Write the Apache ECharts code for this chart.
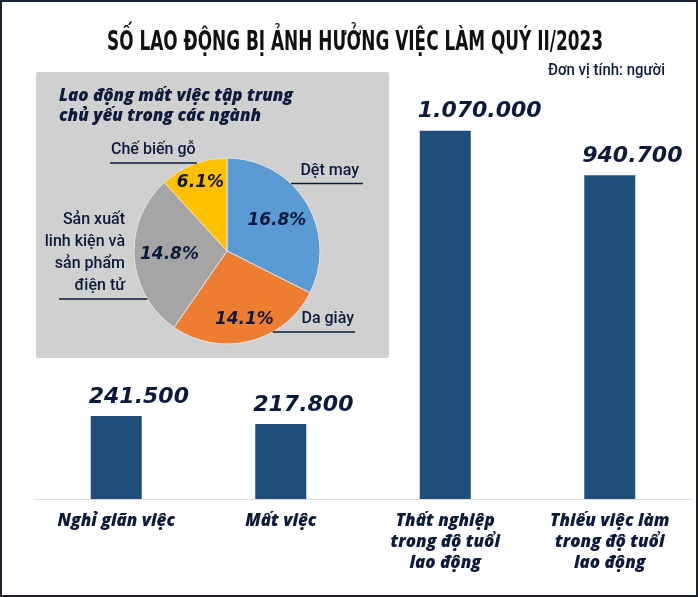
<!DOCTYPE html>
<html><head><meta charset="utf-8">
<script src="https://cdn.jsdelivr.net/npm/echarts@6/dist/echarts.min.js"></script>
<style>html,body{margin:0;padding:0;background:#fff}#c{width:698px;height:597px}</style>
</head><body><div id="c"></div>
<script>
// ---- data ----
const categories = ['Nghỉ giãn việc', 'Mất việc', 'Thất nghiệp\ntrong độ tuổi\nlao động', 'Thiếu việc làm\ntrong độ tuổi\nlao động'];
const workers = [241500, 217800, 1070000, 940700];
const sectorNames = ['Dệt may', 'Da giày', 'Sản xuất\nlinh kiện và\nsản phẩm\nđiện tử', 'Chế biến gỗ'];
const sectorShares = [16.8, 14.1, 14.8, 6.1];
const mainTitle = 'SỐ LAO ĐỘNG BỊ ẢNH HƯỞNG VIỆC LÀM QUÝ II/2023';
const pieTitle = 'Lao động mất việc tập trung\nchủ yếu trong các ngành';
const unitText = 'Đơn vị tính: người';

// ---- style / layout ----
const NAVY = '#0e1a3b';
const BAR = '#1f4e79';
const pieColors = ['#5b9bd5', '#ed7d31', '#a5a5a5', '#ffc000'];
const COND = 'Roboto, "Liberation Sans", sans-serif';
const GEO = '"Open Sans", Lato, sans-serif';
const WIDE = '"DejaVu Sans", Verdana, sans-serif';
const PIE_C = [227, 251], PIE_R = 93;
const innerLabelRadius = [0.63, 0.76, 0.62, 0.79];
const outerLabelLayout = [
  {lineY: 183.5, lineEnd: 363, textX: 359, side: 1, align: 'right'},
  {lineY: 332, lineEnd: 355, textX: 354, side: 1, align: 'right'},
  {lineY: 299, lineEnd: 59, textX: 125, side: -1, align: 'right'},
  {lineY: 163, lineEnd: 110, textX: 111, side: -1, align: 'left'}
];

function measure(text, font) {
  const ctx = document.createElement('canvas').getContext('2d');
  ctx.font = font; return ctx.measureText(text).width;
}
const titleFont = 'bold 27px "DejaVu Sans", sans-serif';
const titleScale = 496 / measure(mainTitle, titleFont);
const unitFont = '500 16px ' + COND;
const unitScale = 117 / measure(unitText, unitFont);
const fmt = v => String(v).replace(/\B(?=(\d{3})+(?!\d))/g, '.');

const chart = echarts.init(document.getElementById('c'), null, {renderer: 'canvas'});
chart.setOption({
  animation: false,
  backgroundColor: '#ffffff',
  title: {
    text: pieTitle, left: 54, top: 81,
    textStyle: {fontFamily: GEO, fontSize: 17, fontWeight: 800, fontStyle: 'italic', color: NAVY, lineHeight: 20}
  },
  graphic: [
    {type: 'rect', z: 0, shape: {x: 36, y: 72, width: 353, height: 286, r: 2}, style: {fill: '#d0d0d0'}},
    {type: 'text', z: 10, x: 107, y: 29, scaleX: titleScale,
      style: {text: mainTitle, font: titleFont, fill: '#111111', textVerticalAlign: 'top'}},
    {type: 'text', z: 10, x: 548, y: 63, scaleX: unitScale,
      style: {text: unitText, font: unitFont, fill: NAVY, textAlign: 'left', textVerticalAlign: 'top'}},
    {type: 'rect', z: 100, shape: {x: 1, y: 1, width: 696, height: 595}, style: {fill: 'none', stroke: '#1b2233', lineWidth: 2}}
  ],
  grid: {left: 34, right: 6, top: 86, bottom: 98},
  xAxis: {
    type: 'category', data: categories,
    axisLine: {show: true, lineStyle: {color: '#dcdcdc', width: 1}},
    axisTick: {show: false},
    axisLabel: {interval: 0, margin: 12, fontFamily: GEO, fontSize: 17, fontWeight: 800, fontStyle: 'italic', color: NAVY, lineHeight: 21}
  },
  yAxis: {
    type: 'value', min: 0, max: 1200000, interval: 400000,
    axisLabel: {show: false}, axisLine: {show: false}, axisTick: {show: false}, splitLine: {show: false}
  },
  series: [
    {
      type: 'bar', data: workers, barWidth: 51, silent: true,
      itemStyle: {color: BAR},
      label: {show: true, position: [-2, -8], align: 'left', verticalAlign: 'bottom', formatter: p => fmt(p.value),
        fontFamily: WIDE, fontSize: 22, fontWeight: 'bold', fontStyle: 'italic', color: NAVY}
    },
    {
      type: 'pie', center: PIE_C, radius: PIE_R, startAngle: 90, clockwise: true, silent: true, z: 3,
      data: sectorNames.map((n, i) => ({name: n, value: sectorShares[i]})),
      color: pieColors,
      itemStyle: {borderColor: '#e4e4e4', borderWidth: 1},
      label: {show: true, position: 'inside', formatter: p => p.value.toFixed(1) + '%',
        fontFamily: WIDE, fontSize: 17, fontWeight: 'bold', fontStyle: 'italic', color: NAVY},
      labelLine: {show: false},
      labelLayout: function (p) {
        const r = p.labelRect;
        const lx = r.x + r.width / 2, ly = r.y + r.height / 2;
        const dx = lx - PIE_C[0], dy = ly - PIE_C[1];
        const d = Math.hypot(dx, dy) || 1;
        const f = innerLabelRadius[p.dataIndex] * PIE_R;
        return {x: PIE_C[0] + dx / d * f, y: PIE_C[1] + dy / d * f, align: 'center', verticalAlign: 'middle'};
      }
    },
    {
      type: 'pie', center: PIE_C, radius: PIE_R, startAngle: 90, clockwise: true, silent: true, z: 4,
      data: sectorNames.map((n, i) => ({name: n, value: sectorShares[i]})),
      itemStyle: {color: 'rgba(0,0,0,0)'},
      label: {show: true, position: 'outside', formatter: '{b}', fontFamily: COND, fontSize: 16, fontWeight: 500,
        color: NAVY, lineHeight: 22, align: 'right'},
      labelLine: {show: true, length: 10, length2: 20, lineStyle: {color: NAVY, width: 1.5}},
      labelLayout: function (p) {
        const L = outerLabelLayout[p.dataIndex];
        const dy = L.lineY - PIE_C[1];
        const edgeX = PIE_C[0] + L.side * Math.sqrt(Math.max(0, PIE_R * PIE_R - dy * dy));
        return {
          x: L.textX, y: L.lineY - 2, align: L.align, verticalAlign: 'bottom',
          labelLinePoints: [[edgeX, L.lineY], [(edgeX + L.lineEnd) / 2, L.lineY], [L.lineEnd, L.lineY]]
        };
      }
    }
  ]
});
</script></body></html>
